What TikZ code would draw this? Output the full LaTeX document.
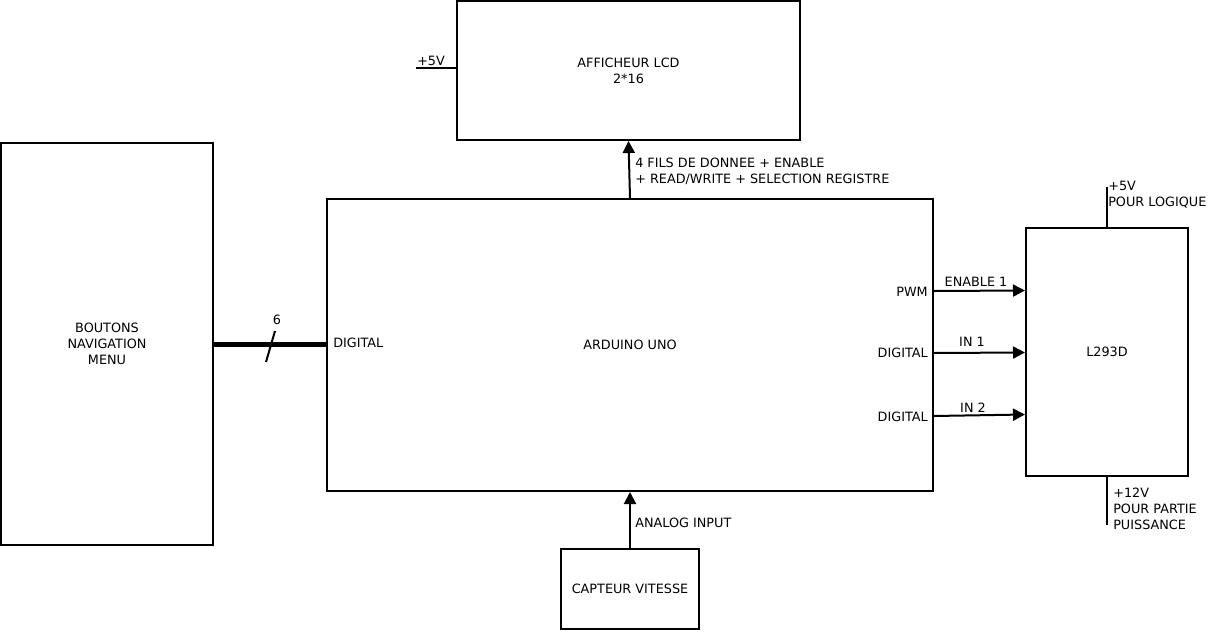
\documentclass[tikz,border=0pt]{standalone}
\usepackage{fontspec}
\setmainfont{DejaVu Sans}
\usetikzlibrary{arrows.meta}
\newcommand\diagfont{\fontsize{9.6pt}{12pt}\selectfont}
\begin{document}
\begin{tikzpicture}[x=0.75pt,y=-0.75pt,
  box/.style={draw, line width=1.5pt, inner sep=0pt, align=center, font=\diagfont},
  lbl/.style={inner sep=0pt, font=\diagfont},
  wire/.style={line width=1.5pt},
  arr/.style={wire, -{Triangle[length=9pt,width=9pt]}}]
\useasboundingbox (0,0) rectangle (1208,632);

% boxes
\node[box, minimum width={343*0.75pt}, minimum height={139*0.75pt}] (lcd) at (628.5,70.5) {AFFICHEUR LCD\\2*16};
\node[box, minimum width={212*0.75pt}, minimum height={402*0.75pt}] (bout) at (107,344) {BOUTONS\\NAVIGATION\\MENU};
\node[box, minimum width={606*0.75pt}, minimum height={292*0.75pt}] (ard) at (630,345) {ARDUINO UNO};
\node[box, minimum width={162*0.75pt}, minimum height={248*0.75pt}] (l293) at (1107,352) {L293D};
\node[box, minimum width={138*0.75pt}, minimum height={80*0.75pt}] (capt) at (630,589) {CAPTEUR VITESSE};

% +5V to LCD
\coordinate (v5) at (416,68);
\draw[wire] (v5) -- (lcd.west |- v5);
\node[lbl, anchor=base west] (v5l) at (417,65) {+5V};

% Arduino -> LCD
\draw[arr] (ard.north) -- (lcd.south);
\node[lbl, anchor=base west] (d1) at (635,167) {4 FILS DE DONNEE + ENABLE};
\node[lbl, anchor=base west] (d2) at (635,183) {+ READ/WRITE + SELECTION REGISTRE};

% bus from buttons
\draw[line width=3.8pt] (bout.east |- 0,344.5) -- (ard.west |- 0,344.5);
\coordinate (s1) at (266,362);
\coordinate (s2) at (275,331);
\draw[wire] (s1) -- (s2);
\node[lbl, anchor=base] (six) at (277,324) {6};
\node[lbl, anchor=base west] (dig0) at (333,347) {DIGITAL};

% Arduino -> L293D
\draw[arr] (ard.east |- 0,291) -- (l293.west |- 0,290.5);
\draw[arr] (ard.east |- 0,353) -- (l293.west |- 0,352.5);
\draw[arr] (ard.east |- 0,416) -- (l293.west |- 0,414.5);
\node[lbl, anchor=base] (en1) at (976,286) {ENABLE 1};
\node[lbl, anchor=base] (in1) at (972,346) {IN 1};
\node[lbl, anchor=base] (in2) at (973,412) {IN 2};
\node[lbl, anchor=base east] (pwm) at (928,296) {PWM};
\node[lbl, anchor=base east] (dig1) at (928,357) {DIGITAL};
\node[lbl, anchor=base east] (dig2) at (928,421) {DIGITAL};

% L293D supplies
\coordinate (v5b) at (1107,187);
\draw[wire] (l293.north) -- (v5b);
\node[lbl, anchor=base west] (v5b1) at (1108,190) {+5V};
\node[lbl, anchor=base west] (v5b2) at (1108,206) {POUR LOGIQUE};
\coordinate (v12) at (1107,525);
\draw[wire] (l293.south) -- (v12);
\node[lbl, anchor=base west] (v121) at (1113,497) {+12V};
\node[lbl, anchor=base west] (v122) at (1113,513) {POUR PARTIE};
\node[lbl, anchor=base west] (v123) at (1113,529) {PUISSANCE};

% sensor -> Arduino
\draw[arr] (capt.north) -- (ard.south);
\node[lbl, anchor=base west] (an) at (635,527) {ANALOG INPUT};
\end{tikzpicture}
\end{document}
